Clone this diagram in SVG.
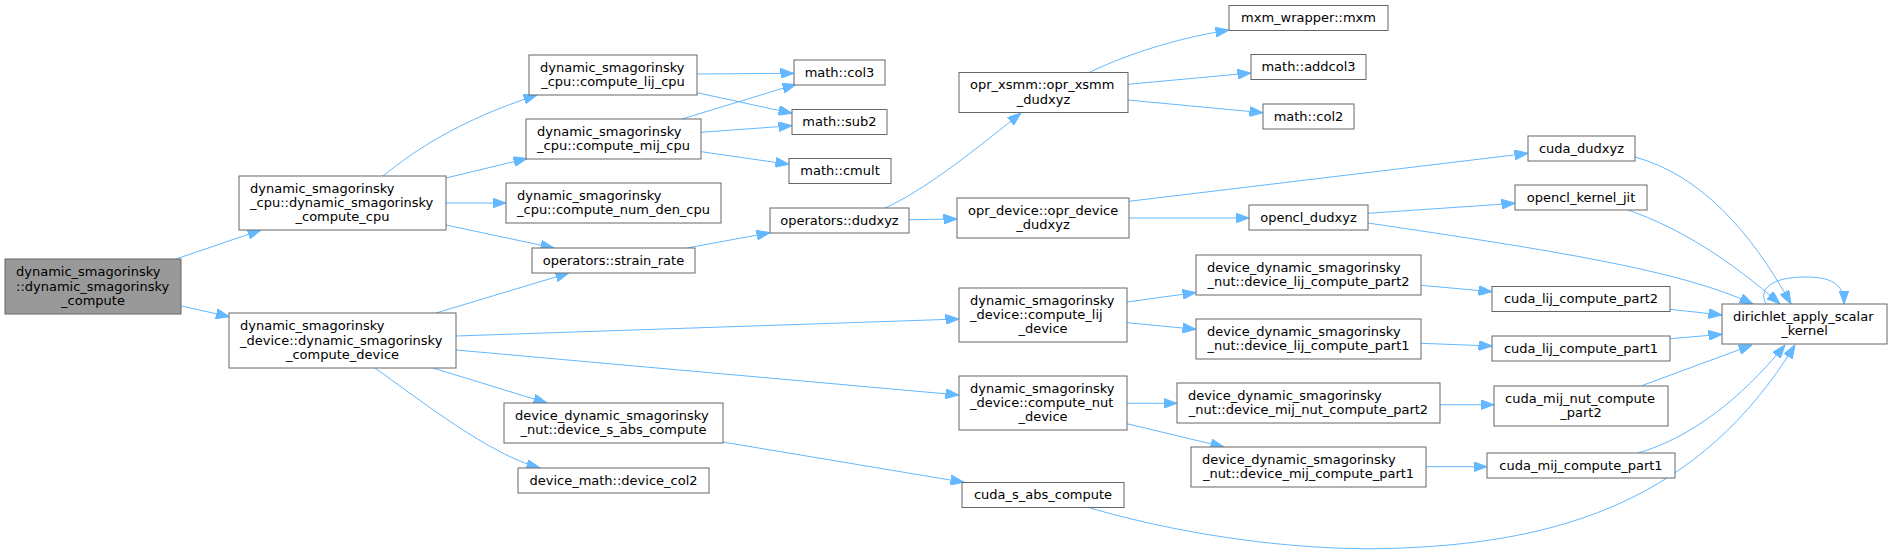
<svg xmlns="http://www.w3.org/2000/svg" width="1892" height="555" viewBox="0 0 1892 555">
<style>
.node rect{fill:#ffffff;stroke:#666666;stroke-width:1}
.root rect{fill:#999999}
text{font-family:"DejaVu Sans","Liberation Sans",sans-serif;font-size:13px;fill:#000000}
.c{text-anchor:middle}
.edges path{fill:none;stroke:#63b8ff;stroke-width:1;marker-end:url(#arr)}
</style>
<defs>
<marker id="arr" markerUnits="userSpaceOnUse" markerWidth="14" markerHeight="10" refX="13.5" refY="5" orient="auto" viewBox="0 0 14 10">
<path d="M0,0 L13.5,5 L0,10 Z" fill="#63b8ff" stroke="#63b8ff" stroke-width="1"/>
</marker>
</defs>
<rect width="1892" height="555" fill="#ffffff"/>
<g class="edges">
<path d="M176,259 L261,230"/>
<path d="M181.5,306 L229.5,316.7"/>
<path d="M383,176 C415,150 460,120 537,95"/>
<path d="M446,178 L527,158.5"/>
<path d="M446,203 L506,203"/>
<path d="M446,225 L554,248"/>
<path d="M436,313 L569,273"/>
<path d="M456,336 L959,319"/>
<path d="M456,350 L959,395"/>
<path d="M433,368 L547,403"/>
<path d="M375,368 C420,400 490,455 540,468"/>
<path d="M697,74 L794,73.3"/>
<path d="M697,92.7 L792,113.3"/>
<path d="M682,119 L796,84.3"/>
<path d="M701,132.3 L792,125.7"/>
<path d="M701,151.7 L789,164.3"/>
<path d="M687,248 L770,232.7"/>
<path d="M885,208 C925,190 975,150 1021,113"/>
<path d="M909,219.7 L957,219"/>
<path d="M1090,72 C1115,60 1165,40 1229,30"/>
<path d="M1127.6,84.3 L1251,73"/>
<path d="M1127.6,100 L1263,112.7"/>
<path d="M1129,201.3 L1528,153.3"/>
<path d="M1129,218 L1249,218"/>
<path d="M1368,213.3 L1515,203.3"/>
<path d="M1368,223 C1550,250 1680,270 1753,304"/>
<path d="M1635,157 C1700,175 1750,230 1791,304"/>
<path d="M1628,210 C1680,228 1730,260 1780,304"/>
<path d="M1127,302 L1196,292.5"/>
<path d="M1127,322.7 L1196,329.3"/>
<path d="M1127,403.3 L1177,403.3"/>
<path d="M1127,423.7 L1224,447"/>
<path d="M1421,285.3 L1492,291.7"/>
<path d="M1421,343.3 L1492,346"/>
<path d="M1440,404.7 L1494,404.7"/>
<path d="M1426,466.7 L1487,466.7"/>
<path d="M1670,309.3 L1722,315"/>
<path d="M1670,338.7 L1722,334.3"/>
<path d="M1641.7,385.7 L1752,345"/>
<path d="M1638,453 C1690,438 1740,400 1785,345"/>
<path d="M1090,508 C1200,540 1320,552 1401,548 C1560,542 1700,500 1795,345"/>
<path d="M1766,304 C1758,290 1770,277 1805,277 C1830,277 1844,283 1844,304"/>
<path d="M722.6,442 L964,482.3"/>
</g>
<g id="n0" class="node root"><rect x="5" y="259" width="176" height="55"/><text x="16" y="276.2">dynamic_smagorinsky</text><text x="16" y="290.5">::dynamic_smagorinsky</text><text class="c" x="93" y="304.8">_compute</text></g>
<g id="n1" class="node"><rect x="239" y="176" width="207" height="54"/><text x="250" y="192.7">dynamic_smagorinsky</text><text x="250" y="207">_cpu::dynamic_smagorinsky</text><text class="c" x="342.5" y="221.3">_compute_cpu</text></g>
<g id="n2" class="node"><rect x="229" y="313" width="227" height="55"/><text x="240" y="330.2">dynamic_smagorinsky</text><text x="240" y="344.5">_device::dynamic_smagorinsky</text><text class="c" x="342.5" y="358.8">_compute_device</text></g>
<g id="n3" class="node"><rect x="529" y="55" width="168" height="40"/><text x="540" y="71.85">dynamic_smagorinsky</text><text class="c" x="613" y="86.15">_cpu::compute_lij_cpu</text></g>
<g id="n4" class="node"><rect x="526" y="119" width="175" height="40"/><text x="537" y="135.85">dynamic_smagorinsky</text><text class="c" x="613.5" y="150.15">_cpu::compute_mij_cpu</text></g>
<g id="n5" class="node"><rect x="506" y="183" width="215" height="40"/><text x="517" y="199.85">dynamic_smagorinsky</text><text class="c" x="613.5" y="214.15">_cpu::compute_num_den_cpu</text></g>
<g id="n6" class="node"><rect x="532" y="248" width="163" height="25"/><text class="c" x="613.5" y="264.5">operators::strain_rate</text></g>
<g id="n7" class="node"><rect x="504" y="403" width="219" height="40"/><text x="515" y="419.85">device_dynamic_smagorinsky</text><text class="c" x="613.5" y="434.15">_nut::device_s_abs_compute</text></g>
<g id="n8" class="node"><rect x="518" y="468" width="191" height="25"/><text class="c" x="613.5" y="484.5">device_math::device_col2</text></g>
<g id="n9" class="node"><rect x="794" y="60" width="91" height="25"/><text class="c" x="839.5" y="76.5">math::col3</text></g>
<g id="n10" class="node"><rect x="792" y="109.5" width="95" height="25"/><text class="c" x="839.5" y="126">math::sub2</text></g>
<g id="n11" class="node"><rect x="789" y="158.5" width="102" height="25"/><text class="c" x="840" y="175">math::cmult</text></g>
<g id="n12" class="node"><rect x="770" y="208" width="139" height="25"/><text class="c" x="839.5" y="224.5">operators::dudxyz</text></g>
<g id="n13" class="node"><rect x="959" y="72.5" width="169" height="40"/><text x="970" y="89.35">opr_xsmm::opr_xsmm</text><text class="c" x="1043.5" y="103.65">_dudxyz</text></g>
<g id="n14" class="node"><rect x="957" y="198" width="172" height="40"/><text x="968" y="214.85">opr_device::opr_device</text><text class="c" x="1043" y="229.15">_dudxyz</text></g>
<g id="n15" class="node"><rect x="959" y="288" width="168" height="54"/><text x="970" y="304.7">dynamic_smagorinsky</text><text x="970" y="319">_device::compute_lij</text><text class="c" x="1043" y="333.3">_device</text></g>
<g id="n16" class="node"><rect x="959" y="376" width="168" height="54"/><text x="970" y="392.7">dynamic_smagorinsky</text><text x="970" y="407">_device::compute_nut</text><text class="c" x="1043" y="421.3">_device</text></g>
<g id="n17" class="node"><rect x="962" y="482.5" width="162" height="25"/><text class="c" x="1043" y="499">cuda_s_abs_compute</text></g>
<g id="n18" class="node"><rect x="1229" y="5.5" width="159" height="25"/><text class="c" x="1308.5" y="22">mxm_wrapper::mxm</text></g>
<g id="n19" class="node"><rect x="1251" y="54.5" width="115" height="25"/><text class="c" x="1308.5" y="71">math::addcol3</text></g>
<g id="n20" class="node"><rect x="1263" y="104" width="91" height="25"/><text class="c" x="1308.5" y="120.5">math::col2</text></g>
<g id="n21" class="node"><rect x="1249" y="205" width="119" height="25"/><text class="c" x="1308.5" y="221.5">opencl_dudxyz</text></g>
<g id="n22" class="node"><rect x="1196" y="255" width="225" height="40"/><text x="1207" y="271.85">device_dynamic_smagorinsky</text><text class="c" x="1308.5" y="286.15">_nut::device_lij_compute_part2</text></g>
<g id="n23" class="node"><rect x="1196" y="319" width="225" height="40"/><text x="1207" y="335.85">device_dynamic_smagorinsky</text><text class="c" x="1308.5" y="350.15">_nut::device_lij_compute_part1</text></g>
<g id="n24" class="node"><rect x="1177" y="383" width="263" height="40"/><text x="1188" y="399.85">device_dynamic_smagorinsky</text><text class="c" x="1308.5" y="414.15">_nut::device_mij_nut_compute_part2</text></g>
<g id="n25" class="node"><rect x="1191" y="447" width="235" height="40"/><text x="1202" y="463.85">device_dynamic_smagorinsky</text><text class="c" x="1308.5" y="478.15">_nut::device_mij_compute_part1</text></g>
<g id="n26" class="node"><rect x="1528" y="136" width="107" height="25"/><text class="c" x="1581.5" y="152.5">cuda_dudxyz</text></g>
<g id="n27" class="node"><rect x="1515" y="185" width="132" height="25"/><text class="c" x="1581" y="201.5">opencl_kernel_jit</text></g>
<g id="n28" class="node"><rect x="1492" y="286.5" width="178" height="25"/><text class="c" x="1581" y="303">cuda_lij_compute_part2</text></g>
<g id="n29" class="node"><rect x="1492" y="336" width="178" height="25"/><text class="c" x="1581" y="352.5">cuda_lij_compute_part1</text></g>
<g id="n30" class="node"><rect x="1494" y="386" width="174" height="40"/><text x="1505" y="402.85">cuda_mij_nut_compute</text><text class="c" x="1581" y="417.15">_part2</text></g>
<g id="n31" class="node"><rect x="1487" y="453" width="188" height="25"/><text class="c" x="1581" y="469.5">cuda_mij_compute_part1</text></g>
<g id="n32" class="node"><rect x="1722" y="304" width="165" height="40"/><text x="1733" y="320.85">dirichlet_apply_scalar</text><text class="c" x="1804.5" y="335.15">_kernel</text></g>
</svg>
